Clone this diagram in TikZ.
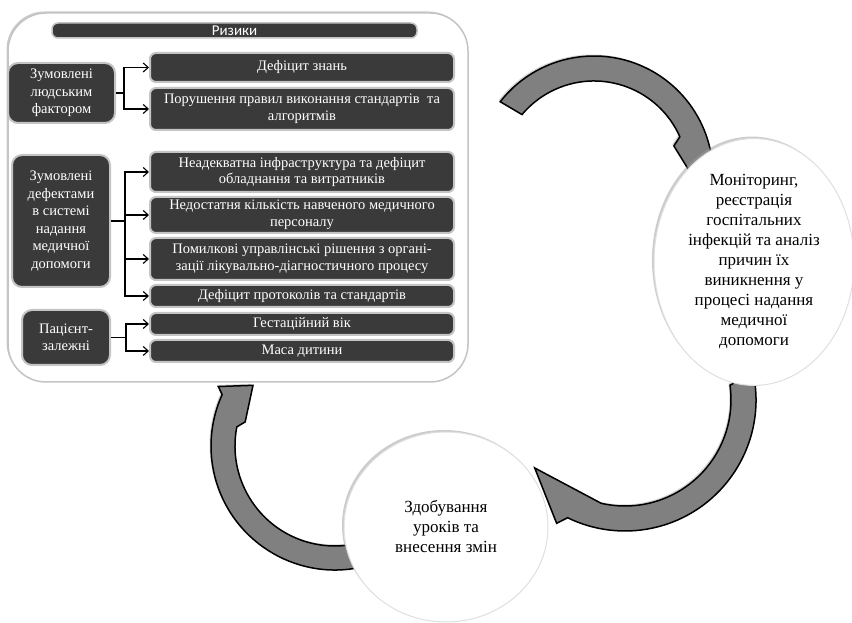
\documentclass[tikz,border=0pt]{standalone}
\usepackage{fontspec}
\setmainfont{Liberation Serif}
\newfontfamily\headfont{Carlito}
\usetikzlibrary{shapes.geometric,arrows.meta,shadows}
\definecolor{boxdark}{HTML}{3A3A3A}
\definecolor{arrowgray}{HTML}{808080}
\definecolor{rimgray}{HTML}{C4C4C4}

\begin{document}
\begin{tikzpicture}[x=1pt, y=1pt,
    panel/.style={rectangle, rounded corners=38pt, fill=white, draw=rimgray, line width=1.5pt,
        drop shadow={shadow xshift=-1.5pt, shadow yshift=1.5pt, fill=gray!80}},
    risk/.style={rectangle, rounded corners=6pt, fill=boxdark, draw=rimgray, line width=2pt,
        text=white, align=center, inner sep=0pt, minimum width=304,
        font=\fontsize{14.5}{16.5}\selectfont},
    cause/.style={risk, rounded corners=10pt, font=\fontsize{14.5}{17.5}\selectfont},
    stage/.style={ellipse, fill=white, draw=gray!25, line width=1pt, align=center, inner sep=0pt,
        font=\fontsize{17}{20}\selectfont,
        drop shadow={shadow xshift=-2pt, shadow yshift=2pt, fill=gray!80}},
    cyc/.style={fill=arrowgray, draw=black, line width=1.5pt,
        drop shadow={shadow xshift=-1.5pt, shadow yshift=1.5pt, fill=gray!70}},
    link/.style={-{Straight Barb[length=5pt, width=9pt]}, line width=1.1pt}]
    \useasboundingbox (0,0) rectangle (852,623);

    % cycle arrows
    \begin{scope}[shift={(594,448)}]
        \draw[cyc] (142:119) arc[start angle=142, end angle=12, radius=119] -- (8:128) -- (-2:100)
            -- (20:85) -- (24:94) arc[start angle=24, end angle=140, radius=94] -- cycle;
    \end{scope}
    \begin{scope}[shift={(625,223)}]
        \draw[cyc] (12:131) arc[start angle=12, end angle=-116, radius=131] -- (-119:141) -- (-143:113)
            -- (-103:106) arc[start angle=-103, end angle=8, radius=106] -- cycle;
    \end{scope}
    \begin{scope}[shift={(335,177)}]
        \draw[cyc] (285:124) arc[start angle=285, end angle=155.5, radius=124] -- (153:131) -- (143.5:102)
            -- (165:93) -- (169:100) arc[start angle=169, end angle=285, radius=100] -- cycle;
    \end{scope}

    % risks panel
    \node[panel, minimum width=460, minimum height=369] (panel) at (238,425.5) {};
    \node[risk, line width=1.5pt, minimum width=365, minimum height=15,
        font=\headfont\fontsize{15}{15}\selectfont] (head) at (234.5,592.5) {Ризики};

    \node[cause, minimum width=107, minimum height=60] (g1) at (61.5,530) {Зумовлені\\людським\\фактором};
    \node[cause, minimum width=98, minimum height=132] (g2) at (61,402) {Зумовлені\\дефектами\\в системі\\надання\\медичної\\допомоги};
    \node[cause, minimum width=88, minimum height=55] (g3) at (66,285.5) {Пацієнт-\\залежні};

    \node[risk, minimum height=29] (r1) at (302,555.5) {Дефіцит знань};
    \node[risk, minimum height=42] (r2) at (302,514) {Порушення правил виконання стандартів \ та\\алгоритмів};
    \node[risk, minimum height=40] (r3) at (302,451) {Неадекватна інфраструктура та дефіцит\\обладнання та витратників};
    \node[risk, minimum height=36] (r4) at (302,408) {Недостатня кількість навченого медичного\\персоналу};
    \node[risk, minimum height=42] (r5) at (302,364) {Помилкові управлінські рішення з органі-\\зації лікувально-діагностичного процесу};
    \node[risk, minimum height=22] (r6) at (302,327) {Дефіцит протоколів та стандартів};
    \node[risk, minimum height=22] (r7) at (302,299) {Гестаційний вік};
    \node[risk, minimum height=22] (r8) at (302,272) {Маса дитини};

    \foreach \t in {r1,r2} \draw[link] (g1.east) -- ++(8,0) |- (\t.west);
    \foreach \t in {r3,r4,r5,r6} \draw[link] (g2.east) -- ++(14,0) |- (\t.west);
    \foreach \t in {r7,r8} \draw[link] (g3.east) -- ++(15,0) |- (\t.west);

    % stages of the cycle
    \node[stage, minimum width=200, minimum height=200] (mon) at (754,361)
        {Моніторинг,\\реєстрація\\госпітальних\\інфекцій та аналіз\\причин їх\\виникнення у\\процесі надання\\медичної\\допомоги};
    \node[stage, minimum width=204, minimum height=190] (les) at (446,96)
        {Здобування\\уроків та\\внесення змін};
\end{tikzpicture}
\end{document}
